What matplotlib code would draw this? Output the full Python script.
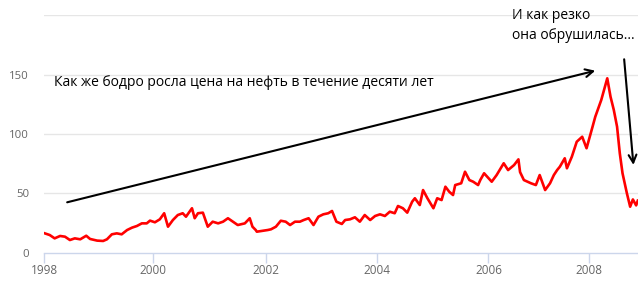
import matplotlib.pyplot as plt
import numpy as np

plt.rcParams['font.family'] = ['Open Sans', 'DejaVu Sans']

# oil price (x in years, y in $ per barrel)
years = [1998.01, 1998.10, 1998.19, 1998.29, 1998.38, 1998.47, 1998.56, 1998.66,
         1998.77, 1998.84, 1998.97, 1999.08, 1999.15, 1999.24, 1999.33, 1999.42,
         1999.52, 1999.61, 1999.70, 1999.79, 1999.88, 1999.94, 2000.03, 2000.12,
         2000.20, 2000.27, 2000.36, 2000.45, 2000.54, 2000.60, 2000.71, 2000.76,
         2000.82, 2000.91, 2001.00, 2001.09, 2001.19, 2001.28, 2001.37, 2001.46,
         2001.55, 2001.68, 2001.77, 2001.82, 2001.88, 2001.90, 2002.10, 2002.16,
         2002.25, 2002.34, 2002.43, 2002.51, 2002.60, 2002.69, 2002.76, 2002.85,
         2002.94, 2003.03, 2003.12, 2003.21, 2003.28, 2003.36, 2003.46, 2003.52,
         2003.61, 2003.70, 2003.79, 2003.88, 2003.98, 2004.07, 2004.16, 2004.25,
         2004.34, 2004.43, 2004.49, 2004.58, 2004.66, 2004.75, 2004.80, 2004.89,
         2004.95, 2005.03, 2005.14, 2005.21, 2005.29, 2005.36, 2005.43, 2005.50,
         2005.54, 2005.65, 2005.72, 2005.80, 2005.87, 2005.96, 2006.00, 2006.07,
         2006.21, 2006.30, 2006.43, 2006.51, 2006.62, 2006.70, 2006.73, 2006.80,
         2006.93, 2007.02, 2007.09, 2007.19, 2007.28, 2007.35, 2007.41, 2007.46,
         2007.55, 2007.59, 2007.68, 2007.77, 2007.87, 2007.95, 2008.01, 2008.06,
         2008.11, 2008.22, 2008.27, 2008.33, 2008.39, 2008.45, 2008.51, 2008.56,
         2008.61, 2008.69, 2008.75, 2008.80, 2008.86, 2008.89]
price = [16.5, 15.1, 12.3, 14.3, 13.7, 10.9, 12.3, 11.5,
         14.5, 11.8, 10.4, 10.1, 11.5, 15.7, 16.5, 15.7,
         19.3, 21.3, 22.7, 24.9, 24.9, 27.2, 25.8, 28.3,
         33.4, 22.1, 27.7, 31.9, 33.4, 30.5, 37.6, 29.2,
         33.4, 33.9, 22.1, 26.3, 24.9, 26.3, 29.2, 26.3,
         23.5, 24.9, 29.2, 22.1, 19.3, 17.9, 19.3, 19.9,
         22.1, 27.1, 26.3, 23.5, 26.3, 26.3, 27.7, 29.2,
         23.5, 30.5, 32.5, 33.4, 35.3, 26.3, 24.4, 27.7,
         28.3, 30.0, 26.3, 31.9, 27.7, 31.1, 32.5, 31.1,
         34.7, 33.4, 39.5, 37.6, 33.9, 43.1, 46.0, 40.3,
         52.9, 46.0, 37.6, 46.0, 44.5, 55.7, 51.5, 48.7,
         57.1, 58.6, 68.3, 61.3, 59.9, 57.1, 61.3, 67.0,
         59.9, 65.5, 75.4, 69.7, 73.9, 78.7, 68.0, 61.3,
         58.6, 57.1, 65.5, 52.9, 58.6, 65.5, 69.7, 72.5,
         79.6, 71.2, 80.9, 93.5, 97.7, 88.0, 97.7, 106.1,
         114.5, 128.6, 137.0, 146.8, 131.3, 120.2, 106.1, 83.8,
         67.0, 50.2, 38.9, 45.0, 40.0, 44.0]

n = min(len(years), len(price))
years = years[:n]
price = price[:n]

tick_pos = [1998.0, 2000.0, 2002.07, 2004.1, 2006.15, 2008.0]
tick_lab = ['1998', '2000', '2002', '2004', '2006', '2008']
y_ticks = [0, 50, 100, 150]

fig = plt.figure(figsize=(6.38, 2.87), dpi=100)
ax = fig.add_axes([0.0694, 0.1185, 0.9306, 0.8292])

ax.plot(years, price, color='#ff0000', lw=1.9)

ax.set_xlim(1998.0, 2008.894)
ax.set_ylim(0, 200)

for g in [50, 100, 150, 200]:
    ax.axhline(g, color='#e6e6e6', lw=1, zorder=0)

for s in ['top', 'right', 'left']:
    ax.spines[s].set_visible(False)
ax.spines['bottom'].set_color('#ccd6eb')
ax.spines['bottom'].set_linewidth(1)

ax.set_xticks(tick_pos)
ax.set_xticklabels(tick_lab)
ax.set_yticks(y_ticks)
ax.tick_params(axis='x', length=7, width=1, color='#ccd6eb', labelcolor='#666666',
               labelsize=8.5, pad=1)
ax.tick_params(axis='y', length=0, labelsize=8.2, labelcolor='#666666', pad=11)

ax.text(1998.18, 143.4, 'Как же бодро росла цена на нефть в течение десяти лет',
        fontsize=10, va='center', ha='left', color='black')
ax.text(2006.59, 191.3, 'И как резко\nона обрушилась...',
        fontsize=10, va='center', ha='left', color='black', linespacing=1.45)

ax.annotate('', xy=(2008.11, 153.2), xytext=(1998.42, 42.6),
            arrowprops=dict(arrowstyle='->', color='black', lw=1.5,
                            mutation_scale=14, shrinkA=0, shrinkB=0))
ax.annotate('', xy=(2008.81, 74.0), xytext=(2008.64, 162.8),
            arrowprops=dict(arrowstyle='->', color='black', lw=1.5,
                            mutation_scale=14, shrinkA=0, shrinkB=0),
            annotation_clip=False)

fig.savefig('out.png', dpi=100)
